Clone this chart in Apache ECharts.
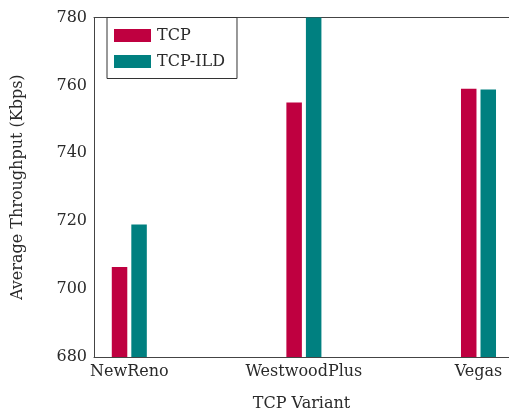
<!DOCTYPE html>
<html>
<head>
<meta charset="utf-8">
<script src="https://cdn.jsdelivr.net/npm/echarts@6/dist/echarts.min.js"></script>
<style>
  html, body { margin: 0; padding: 0; background: #fff; }
  #chart { width: 509px; height: 417px; }
</style>
</head>
<body>
<div id="chart"></div>
<script>
// TCP variants and their average throughput (Kbps)
const variants = ['NewReno', 'WestwoodPlus', 'Vegas'];
const tcp = [706.5, 755, 759];
const tcpIld = [719, 780, 758.8];
const yTicks = [680, 700, 720, 740, 760, 780];

const FONT = '"DejaVu Serif", "Liberation Serif", serif';
const INK = '#2a2a2a';
const AXIS = '#444';
const FS = 16;

const pos = variants.map((_, i) => i);
const toPairs = vals => vals.map((v, i) => [pos[i], v]);

const chart = echarts.init(document.getElementById('chart'), null, { renderer: 'canvas' });
chart.setOption({
  animation: false,
  backgroundColor: '#fff',
  textStyle: { fontFamily: FONT, color: INK },
  grid: { left: 94, right: 0, top: 17.5, bottom: 53, containLabel: false },
  legend: {
    orient: 'vertical',
    left: 107,
    top: 17.5,
    padding: [10, 12, 9, 7],
    itemWidth: 37,
    itemHeight: 13,
    itemGap: 10,
    backgroundColor: '#fff',
    borderColor: '#333',
    borderWidth: 1,
    textStyle: { fontFamily: FONT, fontSize: FS, color: INK, padding: [0, 0, 0, 1] },
    icon: 'rect',
    data: ['TCP', 'TCP-ILD']
  },
  xAxis: [{
    type: 'value',
    min: -0.2022,
    max: 2.1747,
    splitLine: { show: false },
    axisLine: { show: true, onZero: false, lineStyle: { color: AXIS, width: 1 } },
    axisTick: { show: false },
    axisLabel: {
      customValues: pos,
      formatter: v => variants[Math.round(v)] || '',
      fontFamily: FONT, fontSize: FS, color: INK, margin: 7
    },
    name: 'TCP Variant',
    nameLocation: 'middle',
    nameGap: 39,
    nameTextStyle: { fontFamily: FONT, fontSize: FS, color: INK }
  }, {
    type: 'value',
    position: 'top',
    min: -0.2022,
    max: 2.1747,
    splitLine: { show: false },
    axisLine: { show: true, onZero: false, lineStyle: { color: AXIS, width: 1 } },
    axisTick: { show: false },
    axisLabel: { show: false }
  }],
  yAxis: {
    type: 'value',
    min: yTicks[0],
    max: yTicks[yTicks.length - 1],
    interval: 20,
    splitLine: { show: false },
    axisLine: { show: true, onZero: false, lineStyle: { color: AXIS, width: 1 } },
    axisTick: { show: false },
    axisLabel: { fontFamily: FONT, fontSize: FS, color: INK, margin: 7 },
    name: 'Average Throughput (Kbps)',
    nameLocation: 'middle',
    nameGap: 68,
    nameTextStyle: { fontFamily: FONT, fontSize: FS, color: INK }
  },
  series: [{
    name: 'TCP',
    type: 'bar',
    xAxisIndex: 0,
    barWidth: 15.5,
    barGap: '26%',
    itemStyle: { color: '#bf0040' },
    data: toPairs(tcp)
  }, {
    name: 'TCP-ILD',
    type: 'bar',
    xAxisIndex: 0,
    barWidth: 15.5,
    barGap: '26%',
    itemStyle: { color: '#008080' },
    data: toPairs(tcpIld)
  }]
});
</script>
</body>
</html>
